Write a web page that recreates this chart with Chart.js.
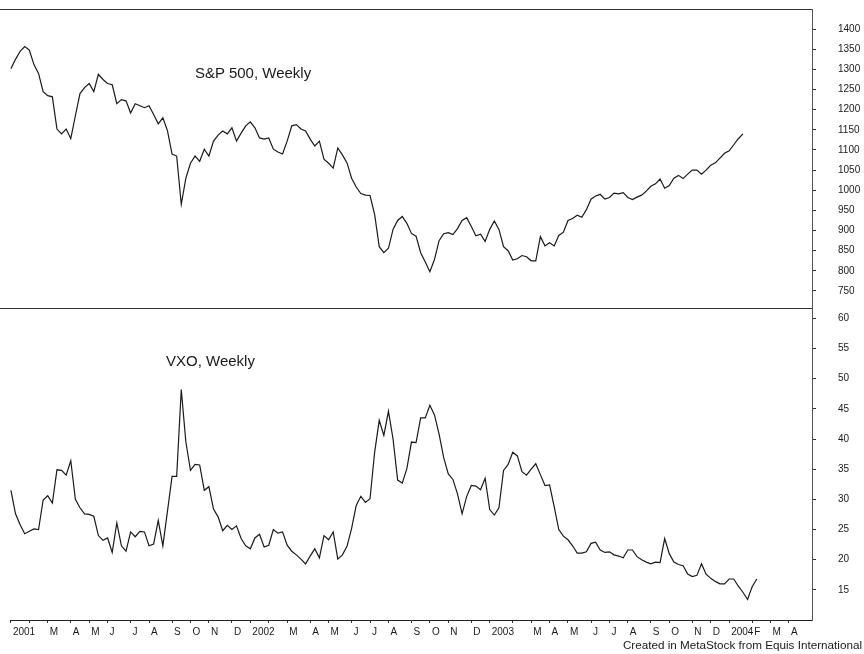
<!DOCTYPE html>
<html>
<head>
<meta charset="utf-8">
<script src="https://cdn.jsdelivr.net/npm/chart.js@4.4.1/dist/chart.umd.min.js"></script>
<style>
  body { margin: 0; background: #fff; }
  #wrap { position: relative; width: 864px; height: 654px; }
  .lbl { position: absolute; font-family: "Liberation Sans", Arial, sans-serif; color: #1a1a1a; line-height: 1; white-space: nowrap; }
</style>
</head>
<body>
<div id="wrap">
  <canvas id="myChart" width="864" height="654"></canvas>
  <div class="lbl" style="left:195px; top:65px; font-size:15px;">S&amp;P 500, Weekly</div>
  <div class="lbl" style="left:166px; top:353px; font-size:15px;">VXO, Weekly</div>
  <div class="lbl" style="right:2px; top:639px; font-size:11.7px;">Created in MetaStock from Equis International</div>
</div>
<script>
// weekly closes, first week of Jan 2001 onwards
const spx = [1302, 1325, 1345, 1357, 1348, 1312, 1290, 1245, 1235, 1232,
  1152, 1140, 1152, 1128, 1185, 1240, 1255, 1265, 1245, 1288,
  1275, 1265, 1262, 1215, 1225, 1222, 1192, 1215, 1210, 1205,
  1210, 1188, 1165, 1180, 1148, 1090, 1085, 965, 1030, 1067,
  1085, 1072, 1102, 1085, 1122, 1137, 1147, 1140, 1155, 1122,
  1142, 1160, 1170, 1155, 1130, 1127, 1130, 1102, 1095, 1090,
  1122, 1160, 1163, 1152, 1147, 1127, 1110, 1122, 1077, 1067,
  1055, 1105, 1088, 1068, 1030, 1008, 992, 988, 987, 940,
  860, 845, 856, 903, 925, 935, 918, 893, 886, 845,
  822, 798, 828, 875, 892, 895, 890, 905, 925, 932,
  910, 887, 891, 873, 903, 924, 903, 860, 850, 827,
  830, 838, 835, 825, 825, 885, 862, 870, 862, 888,
  896, 925, 930, 938, 933, 952, 978, 986, 990, 978,
  982, 993, 991, 994, 982, 977, 983, 988, 998, 1010,
  1016, 1028, 1005, 1012, 1030, 1037, 1029, 1040, 1050, 1050,
  1040, 1050, 1062, 1068, 1080, 1092, 1098, 1113, 1128, 1140];

const vxo = [31.5, 27.6, 25.8, 24.3, 24.7, 25.1, 25.0, 29.9, 30.6, 29.4,
  34.9, 34.8, 34.0, 36.4, 30.0, 28.6, 27.6, 27.5, 27.2, 24.0,
  23.2, 23.6, 21.2, 26.1, 22.3, 21.4, 24.6, 23.8, 24.7, 24.6,
  22.3, 22.6, 26.5, 22.3, 28.0, 33.8, 33.8, 48.2, 39.5, 34.8,
  35.8, 35.7, 31.5, 32.1, 28.4, 27.1, 24.8, 25.7, 25.0, 25.6,
  23.5, 22.3, 21.8, 23.6, 24.2, 22.1, 22.4, 25.0, 24.4, 24.6,
  22.4, 21.4, 20.8, 20.1, 19.3, 20.6, 21.8, 20.3, 24.0, 23.3,
  24.6, 20.1, 20.8, 22.2, 25.2, 29.0, 30.5, 29.5, 30.1, 37.8,
  43.1, 40.6, 44.6, 40.0, 33.2, 32.7, 35.1, 39.5, 39.4, 43.5,
  43.5, 45.6, 44.0, 40.8, 36.9, 34.2, 33.3, 30.9, 27.6, 30.5,
  32.3, 32.2, 31.6, 33.5, 28.3, 27.4, 28.6, 34.8, 35.8, 37.8,
  37.2, 34.6, 34.0, 35.0, 35.9, 34.1, 32.3, 32.4, 28.8, 25.0,
  23.9, 23.3, 22.3, 21.1, 21.1, 21.3, 22.7, 22.9, 21.6, 21.2,
  21.3, 20.8, 20.6, 20.3, 21.6, 21.6, 20.5, 20.0, 19.6, 19.3,
  19.6, 19.5, 23.5, 21.0, 19.6, 19.2, 19.0, 17.6, 17.2, 17.4,
  19.3, 17.6, 16.9, 16.4, 16.0, 16.0, 16.8, 16.8, 15.6, 14.6,
  13.4, 15.5, 16.8];

// week index of the first bar of each month, and its label
const monthWeeks = [0, 4, 8, 13, 17, 21, 26, 30, 35, 39, 43, 48,
  52, 56, 60, 65, 69, 74, 78, 82, 87, 91, 95, 100,
  104, 109, 113, 117, 121, 126, 130, 134, 139, 143, 148, 152,
  156, 161, 165, 169];
const monthLabels = ['2001', '', 'M', 'A', 'M', 'J', 'J', 'A', 'S', 'O', 'N', 'D',
  '2002', '', 'M', 'A', 'M', 'J', 'J', 'A', 'S', 'O', 'N', 'D',
  '2003', '', 'M', 'A', 'M', 'J', 'J', 'A', 'S', 'O', 'N', 'D',
  '2004', 'F', 'M', 'A'];

const spxTicks = [750, 800, 850, 900, 950, 1000, 1050, 1100, 1150, 1200, 1250, 1300, 1350, 1400];
const vxoTicks = [15, 20, 25, 30, 35, 40, 45, 50, 55, 60];

const ink = '#1a1a1a';
const tickFont = { family: 'Liberation Sans', size: 10 };

// horizontal rules along the top of each panel
const panelRules = {
  id: 'panelRules',
  afterDraw(chart) {
    const { ctx, chartArea, scales } = chart;
    ctx.save();
    ctx.strokeStyle = '#333';
    ctx.lineWidth = 1;
    [scales.ySpx.top, scales.yVxo.top].forEach(y => {
      ctx.beginPath();
      ctx.moveTo(0, Math.round(y) + 0.5);
      ctx.lineTo(chartArea.right, Math.round(y) + 0.5);
      ctx.stroke();
    });
    ctx.restore();
  }
};

function rightAxis(ticks, min, max, weight) {
  return {
    type: 'linear',
    position: 'right',
    stack: 'panels',
    stackWeight: weight,
    min: min,
    max: max,
    afterBuildTicks: s => { s.ticks = ticks.map(v => ({ value: v })); },
    afterFit: s => { s.width = 52; s.paddingTop = 0; s.paddingBottom = 0; },
    ticks: { font: tickFont, color: ink, padding: 22, autoSkip: false, callback: v => String(v) },
    grid: { drawOnChartArea: false, tickLength: 4, color: '#333' },
    border: { color: '#555', dash: [1, 3] }
  };
}

const ctx = document.getElementById('myChart').getContext('2d');

const myChart = new Chart(ctx, {
  type: 'line',
  data: {
    datasets: [{
      label: 'S&P 500, Weekly',
      data: spx.map((v, i) => ({ x: i, y: v })),
      yAxisID: 'ySpx',
      borderColor: ink,
      borderWidth: 1.2,
      pointRadius: 0,
      tension: 0
    }, {
      label: 'VXO, Weekly',
      data: vxo.map((v, i) => ({ x: i, y: v })),
      yAxisID: 'yVxo',
      borderColor: ink,
      borderWidth: 1.2,
      pointRadius: 0,
      tension: 0
    }]
  },
  options: {
    responsive: false,
    animation: false,
    layout: { padding: { top: 9, left: 10, right: 0, bottom: 13 } },
    plugins: { legend: { display: false }, tooltip: { enabled: false } },
    scales: {
      x: {
        type: 'linear',
        min: -0.2,
        max: 174,
        afterBuildTicks: s => { s.ticks = monthWeeks.map(w => ({ value: w })); },
        ticks: {
          autoSkip: false,
          maxRotation: 0,
          align: 'start',
          labelOffset: 2,
          padding: 3,
          font: tickFont,
          color: ink,
          callback: (v, i) => monthLabels[i]
        },
        grid: { drawOnChartArea: false, tickLength: 3, color: '#333' },
        border: { color: '#222' }
      },
      ySpx: rightAxis(spxTicks, 709, 1450, 299),
      yVxo: rightAxis(vxoTicks, 10, 61.8, 313)
    }
  },
  plugins: [panelRules]
});
</script>
</body>
</html>
